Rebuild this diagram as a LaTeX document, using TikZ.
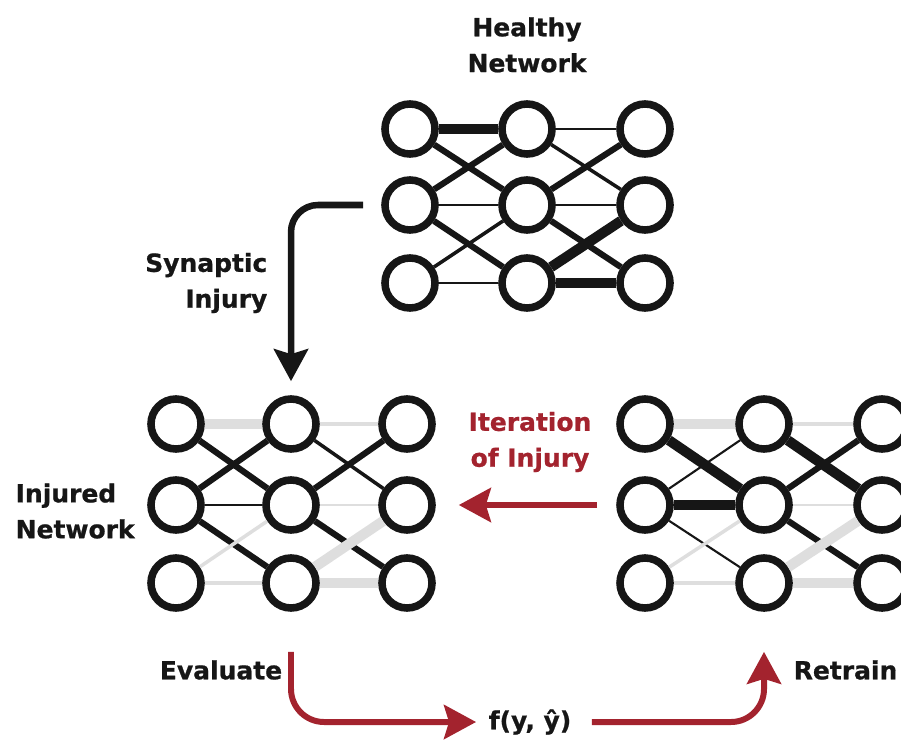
\documentclass[tikz,border=0pt]{standalone}
\usepackage{fontspec}
\setmainfont{DejaVu Sans}[BoldFeatures={FakeBold=0.8}]
\usepackage{tikz}
\usetikzlibrary{arrows.meta,positioning}
\definecolor{Ink}{HTML}{161616}
\definecolor{Lost}{HTML}{DEDEDE}
\definecolor{Loop}{HTML}{A3232E}
\tikzset{
  neuron/.style={circle,draw=Ink,fill=white,line width=2.15pt,minimum size=.5cm,inner sep=0pt},
  lightsyn/.style={draw=Ink,line width=.6pt},
  midsyn/.style={draw=Ink,line width=1pt},
  strongsyn/.style={draw=Ink,line width=1.75pt},
  heavysyn/.style={draw=Ink,line width=2.9pt},
  lostsyn/.style={draw=Lost},
  lbl/.style={font=\fontsize{7.1}{10.2}\selectfont\bfseries,text=Ink,inner sep=0pt,align=center},
  redlbl/.style={lbl,text=Loop},
  injury/.style={-{Stealth[length=3.2mm,width=3.4mm,inset=.5mm]},draw=Ink,line width=1.85pt,rounded corners=.27cm},
  cycle/.style={-{Stealth[length=3.2mm,width=3.4mm,inset=.5mm]},draw=Loop,line width=1.7pt,rounded corners=.33cm}
}

\begin{document}
\begin{tikzpicture}[x=.01cm,y=-.01cm]
  \useasboundingbox (0,0) rectangle (901,740);
  \clip (0,0) rectangle (901,740);

  % healthy network
  \node[neuron] (h11) at (410,129) {};
  \node[neuron] (h12) at (527,129) {};
  \node[neuron] (h13) at (645,129) {};
  \node[neuron] (h21) at (410,205) {};
  \node[neuron] (h22) at (527,205) {};
  \node[neuron] (h23) at (645,205) {};
  \node[neuron] (h31) at (410,283) {};
  \node[neuron] (h32) at (527,283) {};
  \node[neuron] (h33) at (645,283) {};
  \draw[heavysyn] (h11) -- (h12);
  \draw[lightsyn] (h12) -- (h13);
  \draw[strongsyn] (h11) -- (h22);
  \draw[strongsyn] (h21) -- (h12);
  \draw[midsyn] (h12) -- (h23);
  \draw[strongsyn] (h22) -- (h13);
  \draw[lightsyn] (h21) -- (h22);
  \draw[lightsyn] (h22) -- (h23);
  \draw[strongsyn] (h21) -- (h32);
  \draw[midsyn] (h31) -- (h22);
  \draw[strongsyn] (h22) -- (h33);
  \draw[heavysyn] (h32) -- (h23);
  \draw[lightsyn] (h31) -- (h32);
  \draw[heavysyn] (h32) -- (h33);
  \node[lbl,above=.27cm of h12] (healthy) {Healthy\\Network};

  % injured network
  \node[neuron] (i11) at (176,424) {};
  \node[neuron] (i12) at (291,424) {};
  \node[neuron] (i13) at (407,424) {};
  \node[neuron] (i21) at (176,505) {};
  \node[neuron] (i22) at (291,505) {};
  \node[neuron] (i23) at (407,505) {};
  \node[neuron] (i31) at (176,583) {};
  \node[neuron] (i32) at (291,583) {};
  \node[neuron] (i33) at (407,583) {};
  \draw[heavysyn,lostsyn] (i11) -- (i12);
  \draw[midsyn,lostsyn] (i12) -- (i13);
  \draw[strongsyn] (i11) -- (i22);
  \draw[strongsyn] (i21) -- (i12);
  \draw[midsyn] (i12) -- (i23);
  \draw[strongsyn] (i22) -- (i13);
  \draw[lightsyn] (i21) -- (i22);
  \draw[lightsyn,lostsyn] (i22) -- (i23);
  \draw[strongsyn] (i21) -- (i32);
  \draw[midsyn,lostsyn] (i31) -- (i22);
  \draw[strongsyn] (i22) -- (i33);
  \draw[heavysyn,lostsyn] (i32) -- (i23);
  \draw[midsyn,lostsyn] (i31) -- (i32);
  \draw[heavysyn,lostsyn] (i32) -- (i33);
  \node[lbl,align=left,anchor=west] (injured) at (15,511) {Injured\\Network};

  % retrained network
  \node[neuron] (r11) at (645,424) {};
  \node[neuron] (r12) at (764,424) {};
  \node[neuron] (r13) at (882,424) {};
  \node[neuron] (r21) at (645,505) {};
  \node[neuron] (r22) at (764,505) {};
  \node[neuron] (r23) at (882,505) {};
  \node[neuron] (r31) at (645,583) {};
  \node[neuron] (r32) at (764,583) {};
  \node[neuron] (r33) at (882,583) {};
  \draw[heavysyn,lostsyn] (r11) -- (r12);
  \draw[midsyn,lostsyn] (r12) -- (r13);
  \draw[heavysyn] (r11) -- (r22);
  \draw[lightsyn] (r21) -- (r12);
  \draw[heavysyn] (r12) -- (r23);
  \draw[strongsyn] (r22) -- (r13);
  \draw[heavysyn] (r21) -- (r22);
  \draw[lightsyn,lostsyn] (r22) -- (r23);
  \draw[lightsyn] (r21) -- (r32);
  \draw[midsyn,lostsyn] (r31) -- (r22);
  \draw[strongsyn] (r22) -- (r33);
  \draw[heavysyn,lostsyn] (r32) -- (r23);
  \draw[midsyn,lostsyn] (r31) -- (r32);
  \draw[heavysyn,lostsyn] (r32) -- (r33);

  % injury step
  \coordinate (cut) at ([xshift=-.18cm]h21.west);
  \draw[injury] (cut) -| ([yshift=.14cm]i12.north);
  \node[lbl,align=right,anchor=east] (synlbl) at (268,283) {Synaptic\\Injury};

  % iteration loop
  \draw[cycle] ([xshift=-.19cm]r21.west) -- ([xshift=.23cm]i23.east);
  \node[redlbl] (iterlbl) at (530,442) {Iteration\\of Injury};
  \node[lbl] (loss) at (530,722) {f(y, ŷ)};
  \node[lbl] (evaluate) at (221,670) {Evaluate};
  \node[lbl,anchor=east] (retrain) at (898,670) {Retrain};
  \draw[cycle] ([yshift=-.4cm]i32.south) |- ([xshift=-.12cm]loss.west);
  \draw[cycle] ([xshift=.2cm]loss.east) -| ([yshift=-.4cm]r32.south);
\end{tikzpicture}
\end{document}
